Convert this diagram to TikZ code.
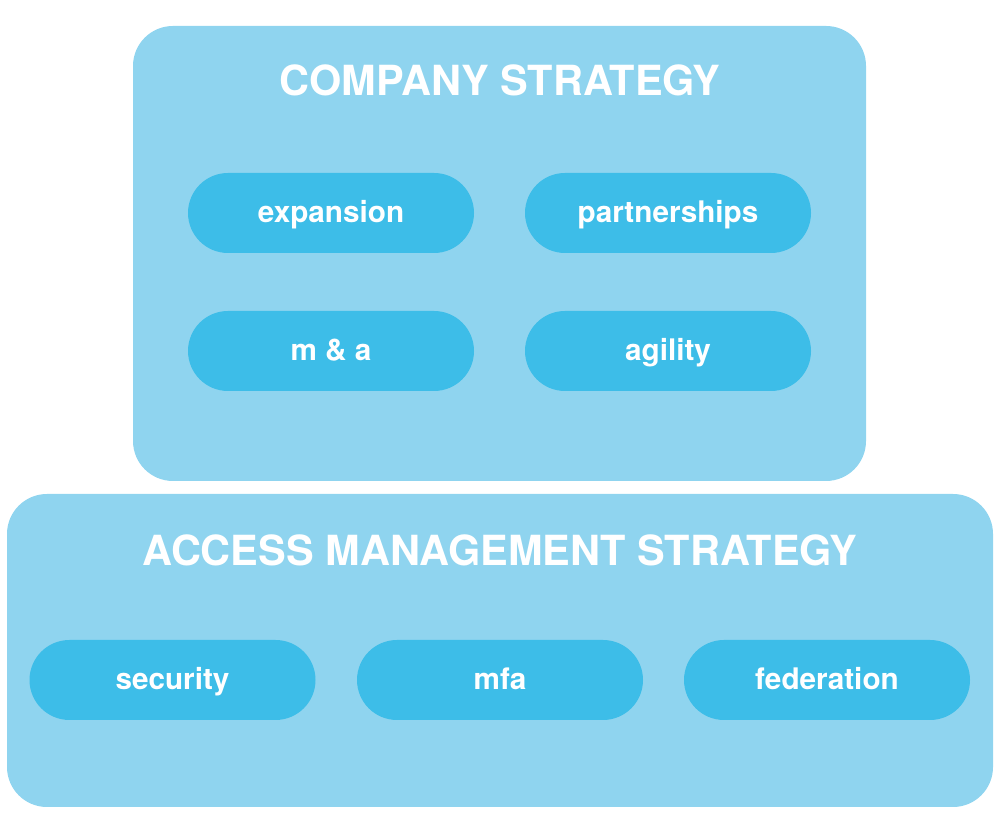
\documentclass[tikz,border=0pt]{standalone}
\usepackage{fontspec}
\setmainfont{TeX Gyre Heros}
\definecolor{boxblue}{HTML}{8FD4EF}
\definecolor{pillblue}{HTML}{3DBDE8}
\begin{document}
\begin{tikzpicture}[x=1pt,y=1pt,
  panel/.style={fill=boxblue,draw=none,rounded corners=40pt},
  pill/.style={fill=pillblue,draw=none,rounded corners=40pt,minimum width=286pt,minimum height=80pt,inner sep=0pt,text height=20pt,text depth=0pt,text=white,font=\bfseries\fontsize{29.7}{34}\selectfont},
  title/.style={text=white,font=\bfseries\fontsize{41.5}{46}\selectfont,inner sep=0pt}]
\useasboundingbox (0,0) rectangle (1000,834);
\fill[panel] (7,27) rectangle (993,340) coordinate (amsbox);
\fill[panel] (133,353) rectangle (866,808) coordinate (csbox);
\node[title,anchor=base] (cst) at (500,738) {COMPANY STRATEGY};
\node[title,anchor=base] (ast) at (500,268) {ACCESS MANAGEMENT STRATEGY};
\node[pill] (exp) at (331,621) {expansion};
\node[pill] (par) at (668,621) {partnerships};
\node[pill] (ma) at (331,483) {m \& a};
\node[pill] (agi) at (668,483) {agility};
\node[pill] (sec) at (172.5,154) {security};
\node[pill] (mfa) at (500,154) {mfa};
\node[pill] (fed) at (827,154) {federation};
\end{tikzpicture}
\end{document}
